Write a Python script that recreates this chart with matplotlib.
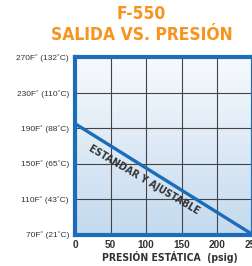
import matplotlib
matplotlib.use("Agg")
import matplotlib.pyplot as plt
import numpy as np
from matplotlib.colors import LinearSegmentedColormap

# data
pressure = [0, 250]
temperature_f = [195, 70]
xticks = [0, 50, 100, 150, 200, 250]
yticks = [70, 110, 150, 190, 230, 270]
ytick_labels = ["70F˚ (21˚C)", "110F˚ (43˚C)", "150F˚ (65˚C)",
                "190F˚ (88˚C)", "230F˚ (110˚C)", "270F˚ (132˚C)"]
title_lines = ["F-550", "SALIDA VS. PRESIÓN"]
xlabel = "PRESIÓN ESTÁTICA  (psig)"
line_label = "ESTANDAR Y AJUSTABLE"

BLUE = "#1b6db8"
ORANGE = "#f7941d"
DARK = "#333333"
COND = dict(family="DejaVu Sans", fontstretch="condensed")

fig = plt.figure(figsize=(2.52, 2.66), dpi=100)
fig.patch.set_facecolor("white")
ax = fig.add_axes([0.2984, 0.1184, 0.704, 0.666])
ax.set_xlim(0, 250)
ax.set_ylim(70, 270)

grad = np.linspace(0, 1, 256).reshape(-1, 1)
cmap = LinearSegmentedColormap.from_list("bg", ["#c4daef", "#f7fafd"])
ax.imshow(grad, extent=[0, 250, 70, 270], origin="lower", aspect="auto",
          cmap=cmap, zorder=0)

for x in xticks[1:-1]:
    ax.axvline(x, color="#444444", lw=0.8, zorder=1)
for y in yticks[1:-1]:
    ax.axhline(y, color="#444444", lw=0.8, zorder=1)

ax.plot(pressure, temperature_f, color=BLUE, lw=2.4, zorder=3, clip_on=False,
        solid_capstyle="butt")

for s in ax.spines.values():
    s.set_color(BLUE)
    s.set_linewidth(3.0)
    s.set_zorder(4)

ax.set_xticks(xticks)
ax.set_xticklabels([str(v) for v in xticks], fontsize=7.2, fontweight="bold",
                   color=DARK, family="Liberation Sans")
ax.set_yticks(yticks)
ax.set_yticklabels(ytick_labels, fontsize=6.0, color=DARK,
                   family="Liberation Sans")
ax.tick_params(length=0)
ax.tick_params(axis="y", pad=4.5)
ax.tick_params(axis="x", pad=4)

fig.text(0.6726, 0.034, xlabel, ha="center", va="center", fontsize=7.5,
         fontweight="bold", color=DARK, **COND)

ax.text(97.5, 132, line_label, rotation=-30.5, rotation_mode="anchor",
        ha="center", va="center", fontsize=7.5, fontweight="bold",
        color=DARK, zorder=3, **COND)

fig.text(0.5615, 0.948, title_lines[0], ha="center", va="center",
         fontsize=12.5, fontweight="bold", color=ORANGE, **COND)
fig.text(0.5615, 0.868, title_lines[1], ha="center", va="center",
         fontsize=12.5, fontweight="bold", color=ORANGE, **COND)

fig.savefig("out.png", dpi=100)
